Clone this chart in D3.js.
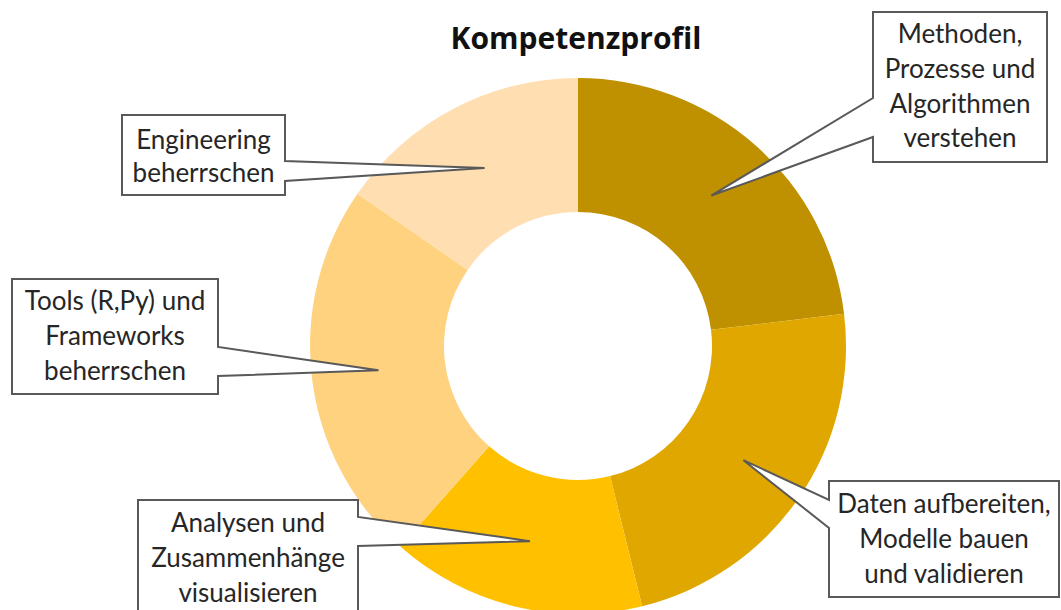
<!DOCTYPE html>
<html>
<head>
<meta charset="utf-8">
<script src="https://cdn.jsdelivr.net/npm/d3@7"></script>
<style>
  html, body { margin: 0; padding: 0; background: #fff; }
  svg { display: block; }
</style>
</head>
<body>
<svg id="chart" width="1061" height="610"></svg>
<script>
// ---- Data ----
const title = "Kompetenzprofil";
const categories = [
  "Methoden, Prozesse und Algorithmen verstehen",
  "Daten aufbereiten, Modelle bauen und validieren",
  "Analysen und Zusammenhänge visualisieren",
  "Tools (R,Py) und Frameworks beherrschen",
  "Engineering beherrschen"
];
const values = [3, 3, 2, 3, 2];
const labelLines = [
  ["Methoden,", "Prozesse und", "Algorithmen", "verstehen"],
  ["Daten aufbereiten,", "Modelle bauen", "und validieren"],
  ["Analysen und", "Zusammenhänge", "visualisieren"],
  ["Tools (R,Py) und", "Frameworks", "beherrschen"],
  ["Engineering", "beherrschen"]
];
const colors = ["#BF9000", "#DFA700", "#FFC000", "#FFD280", "#FFDFB1"];

// ---- Layout (styling only) ----
const W = 1061, H = 610;
const cx = 578, cy = 346, R = 268, r0 = 134;
const boxes = [
  {x0: 873, x1: 1047, y0: 12,  y1: 162, side: "left",  a: 98,  b: 137, base: [43, 78, 113, 147]},
  {x0: 829, x1: 1059, y0: 481, y1: 597, side: "left",  a: 500, b: 528, base: [513, 548, 583]},
  {x0: 138, x1: 358,  y0: 500, y1: 640, side: "right", a: 517, b: 546, base: [532, 567, 602]},
  {x0: 12,  x1: 218,  y0: 279, y1: 394, side: "right", a: 347, b: 376, base: [310, 345, 380]},
  {x0: 122, x1: 285,  y0: 115, y1: 195, side: "right", a: 161, b: 181, base: [149, 182]}
];

const svg = d3.select("#chart");

svg.append("text")
  .attr("x", 576).attr("y", 49)
  .attr("text-anchor", "middle")
  .attr("font-family", "'Open Sans', Lato, sans-serif")
  .attr("font-weight", "bold")
  .attr("font-size", 30)
  .attr("fill", "#111")
  .text(title);

const pie = d3.pie().value(d => d).sort(null);
const arcs = pie(values);
const arc = d3.arc().innerRadius(r0).outerRadius(R);

const g = svg.append("g").attr("transform", `translate(${cx},${cy})`);
g.selectAll("path.slice")
  .data(arcs)
  .join("path")
  .attr("class", "slice")
  .attr("d", arc)
  .attr("fill", (d, i) => colors[i]);

const cg = svg.append("g");
arcs.forEach((d, i) => {
  const b = boxes[i];
  const c = arc.centroid(d);
  const tx = cx + c[0], ty = cy + c[1];
  let p;
  if (b.side === "left") {
    p = `M${b.x0},${b.y0}L${b.x1},${b.y0}L${b.x1},${b.y1}L${b.x0},${b.y1}L${b.x0},${b.b}L${tx},${ty}L${b.x0},${b.a}Z`;
  } else {
    p = `M${b.x0},${b.y0}L${b.x1},${b.y0}L${b.x1},${b.a}L${tx},${ty}L${b.x1},${b.b}L${b.x1},${b.y1}L${b.x0},${b.y1}Z`;
  }
  cg.append("path")
    .attr("d", p)
    .attr("fill", "#fff")
    .attr("stroke", "#595959")
    .attr("stroke-width", 2)
    .attr("stroke-linejoin", "miter");
  const midx = (b.x0 + b.x1) / 2;
  labelLines[i].forEach((ln, k) => {
    cg.append("text")
      .attr("x", midx).attr("y", b.base[k])
      .attr("text-anchor", "middle")
      .attr("font-family", "Lato, 'Open Sans', sans-serif")
      .attr("font-size", 26)
      .attr("fill", "#262626")
      .text(ln);
  });
});
</script>
</body>
</html>
